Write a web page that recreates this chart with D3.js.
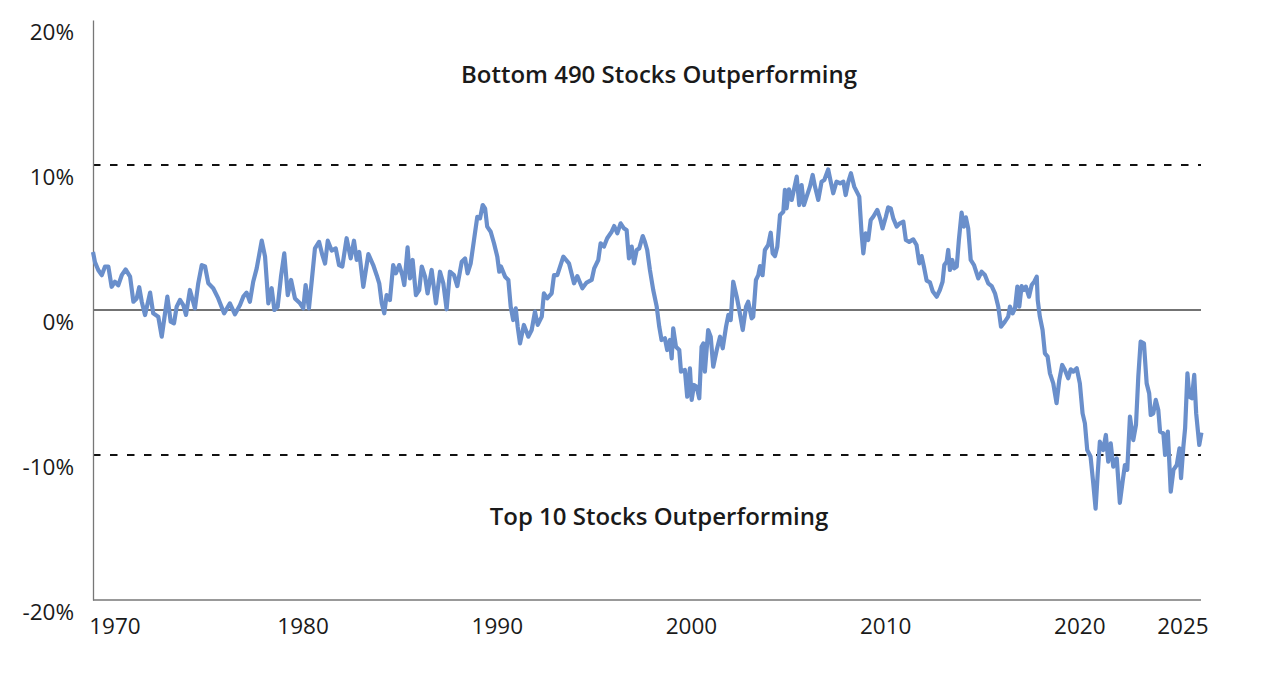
<!DOCTYPE html>
<html>
<head>
<meta charset="utf-8">
<script src="https://cdn.jsdelivr.net/npm/d3@7"></script>
<style>
  body { margin: 0; background: #fff; }
  text { font-family: "Open Sans", sans-serif; fill: #1a1a1a; }
</style>
</head>
<body>
<div id="chart"></div>
<script>
// relative return, bottom 490 vs top 10 (%)
var years = [
  1969.00,1969.10,1969.27,1969.45,1969.62,1969.79,1969.96,1970.13,1970.30,1970.48,1970.68,1970.91,
  1971.08,1971.25,1971.38,1971.51,1971.68,1971.94,1972.10,1972.36,1972.54,1972.83,1973.00,1973.17,
  1973.31,1973.48,1973.65,1973.79,1973.99,1974.25,1974.42,1974.60,1974.77,1974.94,1975.19,1975.45,
  1975.75,1976.05,1976.31,1976.57,1976.74,1976.91,1977.08,1977.25,1977.43,1977.69,1977.86,1978.03,
  1978.20,1978.34,1978.51,1978.68,1978.85,1979.03,1979.20,1979.40,1979.66,1979.83,1979.95,1980.12,
  1980.26,1980.43,1980.64,1980.81,1980.95,1981.09,1981.29,1981.50,1981.67,1981.84,1982.06,1982.27,
  1982.44,1982.58,1982.71,1982.92,1983.18,1983.43,1983.61,1983.74,1983.87,1984.00,1984.12,1984.29,
  1984.46,1984.60,1984.77,1984.93,1985.03,1985.20,1985.32,1985.46,1985.63,1985.80,1985.93,1986.10,
  1986.23,1986.44,1986.66,1986.87,1987.04,1987.21,1987.38,1987.59,1987.76,1987.99,1988.16,1988.29,
  1988.45,1988.62,1988.79,1988.93,1989.07,1989.19,1989.30,1989.48,1989.65,1989.82,1989.92,1990.01,
  1990.22,1990.39,1990.51,1990.64,1990.77,1990.87,1990.99,1991.19,1991.42,1991.59,1991.76,1991.90,
  1992.11,1992.22,1992.39,1992.62,1992.74,1992.91,1993.22,1993.51,1993.77,1993.94,1994.20,1994.42,
  1994.68,1994.81,1995.02,1995.14,1995.31,1995.48,1995.71,1995.84,1996.00,1996.17,1996.34,1996.48,
  1996.60,1996.74,1996.86,1997.00,1997.13,1997.31,1997.42,1997.54,1997.68,1997.85,1998.03,1998.16,
  1998.28,1998.45,1998.57,1998.71,1998.80,1998.88,1999.02,1999.19,1999.28,1999.48,1999.60,1999.74,
  1999.83,1999.95,2000.09,2000.22,2000.34,2000.43,2000.51,2000.68,2000.81,2000.94,2001.12,2001.29,
  2001.43,2001.60,2001.72,2001.84,2001.97,2002.15,2002.28,2002.46,2002.63,2002.74,2002.92,2003.00,
  2003.14,2003.26,2003.35,2003.48,2003.60,2003.77,2003.90,2004.00,2004.12,2004.24,2004.38,2004.55,
  2004.63,2004.72,2004.84,2004.98,2005.10,2005.24,2005.37,2005.49,2005.61,2005.75,2005.92,2006.06,
  2006.18,2006.35,2006.52,2006.66,2006.86,2006.99,2007.12,2007.29,2007.47,2007.64,2007.76,2007.90,
  2008.03,2008.20,2008.33,2008.46,2008.58,2008.67,2008.79,2008.92,2009.05,2009.18,2009.39,2009.53,
  2009.66,2009.83,2009.95,2010.08,2010.21,2010.39,2010.55,2010.73,2010.86,2011.03,2011.24,2011.41,
  2011.55,2011.67,2011.79,2011.93,2012.10,2012.24,2012.45,2012.61,2012.75,2012.84,2012.96,2013.04,
  2013.13,2013.25,2013.35,2013.48,2013.59,2013.73,2013.85,2013.95,2014.07,2014.20,2014.37,2014.59,
  2014.76,2014.93,2015.10,2015.28,2015.45,2015.62,2015.76,2015.96,2016.13,2016.22,2016.36,2016.48,
  2016.60,2016.70,2016.82,2016.94,2017.04,2017.20,2017.34,2017.47,2017.60,2017.65,2017.76,2017.90,
  2018.02,2018.16,2018.28,2018.45,2018.62,2018.76,2018.91,2019.05,2019.22,2019.35,2019.48,2019.66,
  2019.82,2019.96,2020.08,2020.20,2020.37,2020.51,2020.63,2020.74,2020.85,2021.02,2021.16,2021.28,
  2021.41,2021.54,2021.72,2021.88,2022.02,2022.14,2022.26,2022.40,2022.57,2022.71,2022.83,2022.95,
  2023.12,2023.26,2023.39,2023.47,2023.60,2023.73,2023.86,2023.95,2024.12,2024.21,2024.35,2024.50,
  2024.64,2024.81,2024.95,2025.03,2025.15,2025.24,2025.36,2025.46,2025.59,2025.71,2025.81,2025.97,
  2026.08
];
var spread = [
  4.0,3.3,2.76,2.4,3.0,3.0,1.6,1.95,1.7,2.4,2.8,2.3,
  0.57,0.8,1.57,0.57,-0.35,1.2,-0.23,-0.46,-1.84,0.92,-0.8,-0.92,
  0.23,0.69,0.34,-0.34,1.38,0.11,1.84,3.1,3.0,1.84,1.5,0.8,
  -0.23,0.46,-0.3,0.34,0.92,1.2,0.57,1.95,2.87,4.78,3.68,0.46,
  1.5,0.0,0.23,2.3,3.9,1.03,2.07,0.8,0.46,0.11,1.72,0.11,
  1.95,4.25,4.7,3.8,3.2,4.78,4.1,4.25,3.1,3.0,4.95,3.56,
  4.78,3.45,4.0,1.6,3.86,3.1,2.4,1.84,0.46,-0.23,1.03,0.69,
  3.1,2.53,3.1,2.4,1.72,4.32,2.18,3.45,1.03,1.38,3.0,2.3,
  1.15,2.76,0.46,2.64,1.84,0.05,2.64,2.4,1.65,3.33,3.56,2.53,
  3.22,4.83,6.43,6.32,7.24,7.01,5.75,5.4,4.6,3.68,2.64,3.0,
  2.3,2.07,0.23,-0.69,0.11,-1.15,-2.3,-1.03,-1.84,-1.38,-0.11,-1.03,
  -0.46,1.15,0.8,1.15,2.4,2.4,3.68,3.22,1.84,2.34,1.5,1.89,
  2.07,2.87,3.45,4.6,4.37,4.95,5.4,5.79,5.29,5.98,5.63,5.52,
  3.56,4.37,3.22,4.14,4.25,5.1,4.71,4.14,2.76,1.38,0.23,-1.15,
  -2.07,-1.95,-2.76,-2.07,-3.33,-1.26,-2.53,-2.76,-4.25,-4.14,-5.98,-4.02,
  -6.2,-5.17,-5.29,-6.09,-2.53,-2.3,-4.25,-1.38,-1.84,-3.91,-2.76,-1.84,
  -2.64,-1.15,-0.34,-0.69,1.95,0.92,0.0,-1.38,0.23,0.57,-0.57,-0.46,
  2.07,2.4,3.03,2.4,4.14,4.48,5.33,3.91,3.72,4.37,6.55,6.78,
  8.28,7.01,8.32,7.59,8.32,9.2,7.24,8.62,7.24,7.82,8.51,9.31,
  8.51,7.59,8.85,8.97,9.7,8.85,8.05,8.85,8.74,8.85,7.93,8.85,
  9.43,8.51,8.16,7.82,5.29,3.91,5.29,4.83,6.2,6.43,6.9,6.32,
  5.63,6.43,7.08,7.01,6.32,5.75,5.98,6.09,4.83,4.7,4.87,4.48,
  3.22,3.72,2.99,2.02,1.9,1.3,0.92,1.38,1.95,3.1,3.33,4.14,
  2.76,3.45,2.87,3.0,4.83,6.71,5.75,6.39,5.63,3.45,3.1,2.18,
  2.64,2.41,1.84,1.65,1.15,0.23,-1.15,-0.8,-0.46,0.23,-0.23,0.11,
  1.61,0.23,1.65,1.38,1.61,0.92,1.72,1.95,2.3,0.69,-0.46,-1.38,
  -2.99,-3.22,-4.37,-5.06,-6.43,-4.83,-3.79,-4.14,-4.71,-4.09,-4.25,-4.02,
  -5.06,-7.13,-7.82,-9.66,-10.1,-11.95,-13.7,-11.26,-9.08,-9.66,-8.62,-10.46,
  -9.2,-10.8,-10.23,-13.3,-11.84,-10.69,-11.03,-7.36,-8.97,-7.93,-4.6,-2.18,
  -2.3,-5.06,-5.75,-7.24,-7.13,-6.2,-6.9,-8.39,-8.51,-10.0,-8.39,-12.53,
  -11.03,-10.69,-9.54,-11.6,-9.43,-8.16,-4.37,-5.98,-6.09,-4.48,-7.13,-9.31,
  -8.46
];
var yearTicks = [1970, 1980, 1990, 2000, 2010, 2020, 2025];
var pctTicks = [20, 10, 0, -10, -20];
var bands = [10, -10];
var notes = [
  { text: "Bottom 490 Stocks Outperforming", value: 15.66 },
  { text: "Top 10 Stocks Outperforming", value: -14.85 }
];

var w = 1280,
    h = 674,
    padLeft = 93,
    padRight = 1201,
    padTop = 20,
    padBottom = 600;

var x = d3.scaleLinear().domain([1969, 2026.11]).range([padLeft, 1202]);
var y = d3.scaleLinear().domain([-20, 20]).range([padBottom, padTop]);

var svg = d3.select("#chart").append("svg")
    .attr("width", w)
    .attr("height", h);

// dashed 10% guides
svg.selectAll("line.band")
    .data(bands)
  .enter().append("line")
    .attr("class", "band")
    .attr("x1", padLeft).attr("x2", padRight)
    .attr("y1", function(d) { return y(d); })
    .attr("y2", function(d) { return y(d); })
    .attr("stroke", "#111")
    .attr("stroke-width", 2)
    .attr("stroke-dasharray", "7.5,9.5");

// zero line
svg.append("line")
    .attr("x1", padLeft).attr("x2", padRight)
    .attr("y1", y(0)).attr("y2", y(0))
    .attr("stroke", "#444")
    .attr("stroke-width", 1.3);

// axes
var yAxis = svg.append("g")
    .attr("transform", "translate(" + padLeft + ",0)")
    .call(d3.axisLeft(y).tickValues(pctTicks).tickSize(0).tickPadding(19)
      .tickFormat(function(d) { return d + "%"; }));
yAxis.select(".domain").attr("stroke", "#777").attr("stroke-width", 1.3);
yAxis.selectAll("text")
    .attr("dy", "0.85em")
    .style("font-size", "22.5px")
    .style("font-family", "'Open Sans', sans-serif")
    .attr("fill", "#1a1a1a");

var xAxis = svg.append("g")
    .attr("transform", "translate(0," + padBottom + ")")
    .call(d3.axisBottom(x).tickValues(yearTicks).tickSize(0).tickPadding(18)
      .tickFormat(d3.format("d")));
xAxis.select(".domain").remove();
xAxis.selectAll("text")
    .attr("dx", function(d) { return d === 1970 || d === 2025 ? 2 : -4; })
    .style("font-size", "22.5px")
    .style("font-family", "'Open Sans', sans-serif")
    .attr("fill", "#1a1a1a");

svg.append("line")
    .attr("x1", padLeft).attr("x2", padRight)
    .attr("y1", padBottom).attr("y2", padBottom)
    .attr("stroke", "#777")
    .attr("stroke-width", 1.3);

// the series
var line = d3.line()
    .x(function(d, i) { return x(years[i]); })
    .y(function(d) { return y(d); });

svg.append("path")
    .datum(spread)
    .attr("d", line)
    .attr("fill", "none")
    .attr("stroke", "#6a8fcb")
    .attr("stroke-width", 4.2)
    .attr("stroke-linejoin", "round");

svg.selectAll("text.note")
    .data(notes)
  .enter().append("text")
    .attr("class", "note")
    .attr("x", 659)
    .attr("y", function(d) { return y(d.value); })
    .attr("text-anchor", "middle")
    .style("font-size", "24px")
    .style("font-weight", 600)
    .text(function(d) { return d.text; });
</script>
</body>
</html>
